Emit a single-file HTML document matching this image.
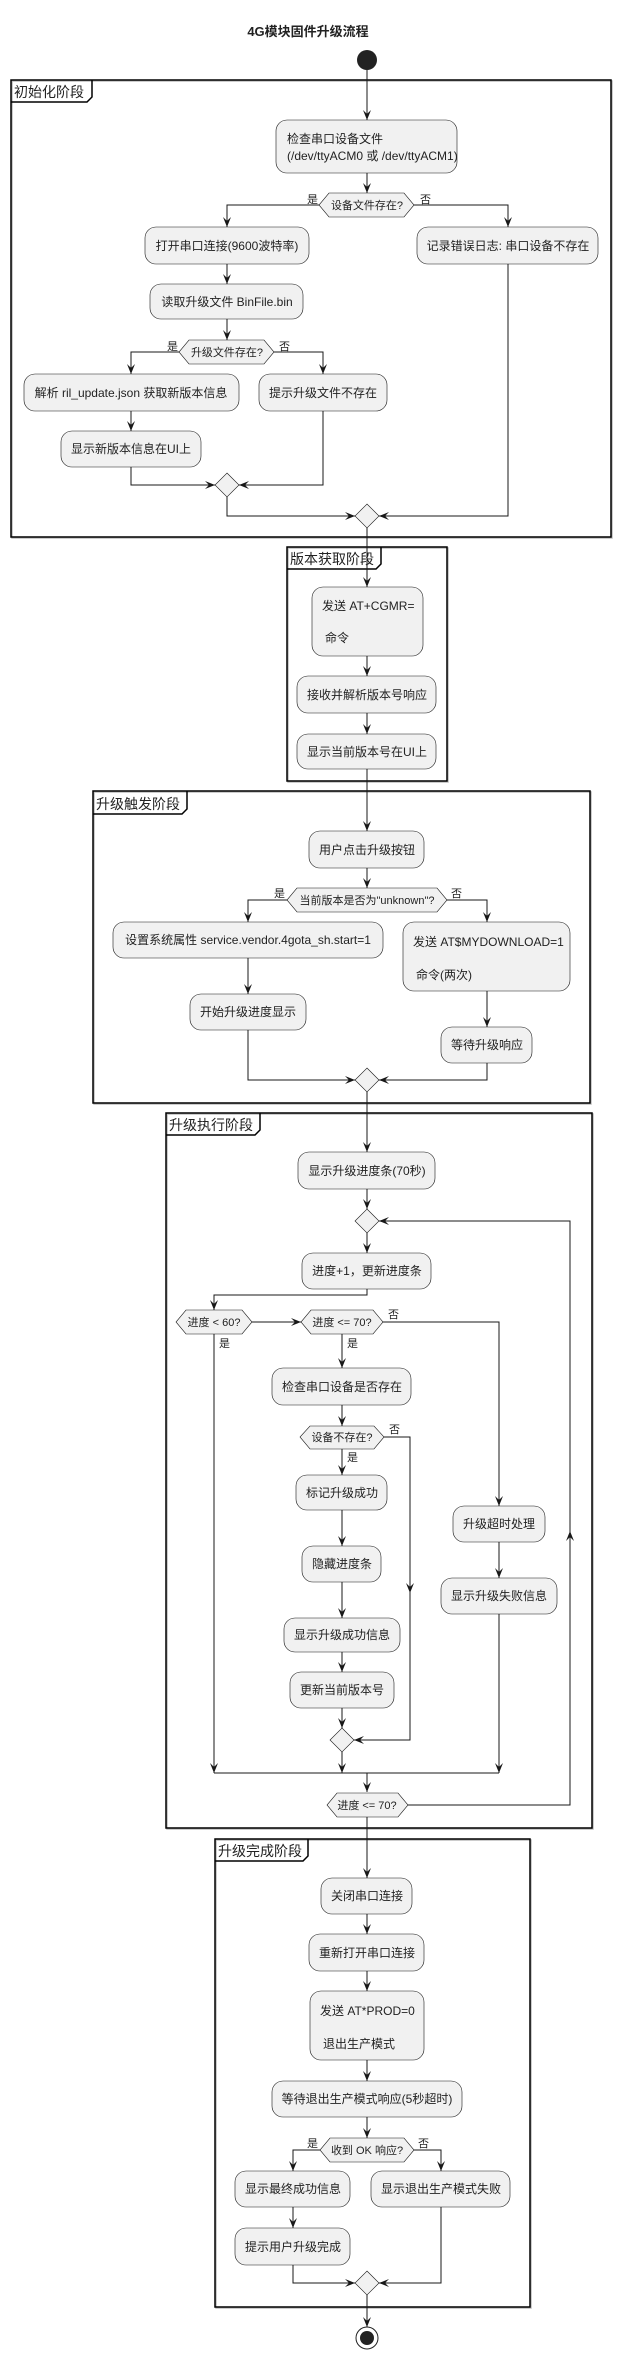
<!DOCTYPE html>
<html><head><meta charset="utf-8"><style>
html,body{margin:0;padding:0;background:#fff;}
svg{display:block;}
text{font-family:"Liberation Sans","Noto Sans CJK SC",sans-serif;fill:#222;}
.b{fill:#F1F1F1;stroke:#181818;stroke-width:0.6;}
.l{fill:none;stroke:#181818;stroke-width:1;}
.f{fill:none;stroke:#000;stroke-width:1.5;}
.fs{fill:none;stroke:#bbb;stroke-width:1.5;}
.t{font-size:12px;text-anchor:middle;}
.ts{font-size:12px;}
.d{font-size:11px;text-anchor:middle;}
.y{font-size:11px;}
.fl{font-size:14px;}
</style></head><body>
<svg width="621" height="2356" viewBox="0 0 621 2356" xmlns="http://www.w3.org/2000/svg">
<defs>
<marker id="a" viewBox="0 0 10 8" refX="10" refY="4" markerWidth="10" markerHeight="8" markerUnits="userSpaceOnUse" orient="auto">
<path d="M0,0 L10,4 L0,8 L4,4 Z" fill="#181818"/></marker>
</defs>
<text x="308" y="36" style="font-size:13px;font-weight:bold;text-anchor:middle">4G模块固件升级流程</text>
<circle cx="367" cy="60" r="10" fill="#222"/>

<!-- frames -->
<g>
<rect x="12" y="81" width="600" height="457" class="fs"/>
<rect x="11" y="80" width="600" height="457" class="f" fill="none"/>
<path d="M11,102 L87,102 L92,97 L92,80" class="f"/>
<text x="14" y="97" class="fl">初始化阶段</text>

<rect x="288" y="548" width="160" height="234" class="fs"/>
<rect x="287" y="547" width="160" height="234" class="f"/>
<path d="M287,569 L376,569 L381,564 L381,547" class="f"/>
<text x="290" y="564" class="fl">版本获取阶段</text>

<rect x="94" y="792" width="497" height="312" class="fs"/>
<rect x="93" y="791" width="497" height="312" class="f"/>
<path d="M93,814 L182,814 L187,809 L187,791" class="f"/>
<text x="96" y="809" class="fl">升级触发阶段</text>

<rect x="167" y="1114" width="426" height="715" class="fs"/>
<rect x="166" y="1113" width="426" height="715" class="f"/>
<path d="M166,1135 L255,1135 L260,1130 L260,1113" class="f"/>
<text x="169" y="1130" class="fl">升级执行阶段</text>

<rect x="216" y="1840" width="315" height="468" class="fs"/>
<rect x="215" y="1839" width="315" height="468" class="f"/>
<path d="M215,1861 L303,1861 L308,1856 L308,1839" class="f"/>
<text x="218" y="1856" class="fl">升级完成阶段</text>
</g>

<!-- connectors -->
<g class="l" marker-end="url(#a)">
<path d="M367,70 V120"/>
<path d="M367,173 V193"/>
<path d="M319,205 H227 V227"/>
<path d="M414,205 H508 V227"/>
<path d="M227,264 V284"/>
<path d="M227,319 V340"/>
<path d="M179,352 H131 V374"/>
<path d="M274,352 H323 V374"/>
<path d="M131,411 V431"/>
<path d="M131,467 V485 H215"/>
<path d="M323,411 V485 H239"/>
<path d="M227,497 V516 H355"/>
<path d="M508,264 V516 H379"/>
<path d="M367,528 V587"/>
<path d="M367,656 V676"/>
<path d="M367,713 V734"/>
<path d="M367,769 V831"/>
<path d="M367,868 V888"/>
<path d="M287,900 H248 V922"/>
<path d="M447,900 H487 V922"/>
<path d="M248,958 V994"/>
<path d="M487,991 V1027"/>
<path d="M248,1030 V1080 H355"/>
<path d="M487,1063 V1080 H379"/>
<path d="M367,1092 V1152"/>
<path d="M367,1189 V1209"/>
<path d="M367,1233 V1253"/>
<path d="M367,1289 V1295 H214 V1310"/>
<path d="M252,1322 H301"/>
<path d="M342,1334 V1368"/>
<path d="M383,1322 H499 V1506"/>
<path d="M342,1405 V1426"/>
<path d="M342,1449 V1475"/>
<path d="M342,1510 V1546"/>
<path d="M342,1582 V1618"/>
<path d="M342,1652 V1672"/>
<path d="M342,1708 V1728"/>
<path d="M410,1593 V1740 H354"/>
<path d="M384,1437 H410 V1593"/>
<path d="M499,1542 V1578"/>
<path d="M214,1334 V1773"/>
<path d="M342,1752 V1773"/>
<path d="M499,1614 V1773"/>
<path d="M367,1773 V1792"/>
<path d="M408,1805 H570 V1531"/>
<path d="M570,1531 V1221 H379"/>
<path d="M367,1817 V1878"/>
<path d="M367,1914 V1934"/>
<path d="M367,1971 V1991"/>
<path d="M367,2060 V2081"/>
<path d="M367,2117 V2138"/>
<path d="M320,2150 H293 V2171"/>
<path d="M414,2150 H441 V2171"/>
<path d="M293,2207 V2228"/>
<path d="M293,2265 V2283 H355"/>
<path d="M441,2207 V2283 H379"/>
<path d="M367,2295 V2327"/>
</g>
<path d="M214,1773 H499" class="l"/>

<!-- end -->
<circle cx="367" cy="2338" r="11" fill="#fff" stroke="#222" stroke-width="1"/>
<circle cx="367" cy="2338" r="7" fill="#222"/>

<!-- merge diamonds -->
<g class="b">
<path d="M227,473 L239,485 L227,497 L215,485 Z"/>
<path d="M367,504 L379,516 L367,528 L355,516 Z"/>
<path d="M367,1068 L379,1080 L367,1092 L355,1080 Z"/>
<path d="M367,1209 L379,1221 L367,1233 L355,1221 Z"/>
<path d="M342,1728 L354,1740 L342,1752 L330,1740 Z"/>
<path d="M367,2271 L379,2283 L367,2295 L355,2283 Z"/>
</g>

<!-- decision hexagons -->
<g class="b">
<path d="M329,193 H404 L414,205 L404,217 H329 L319,205 Z"/>
<path d="M189,340 H264 L274,352 L264,364 H189 L179,352 Z"/>
<path d="M297,888 H437 L447,900 L437,912 H297 L287,900 Z"/>
<path d="M186,1310 H242 L252,1322 L242,1334 H186 L176,1322 Z"/>
<path d="M311,1310 H373 L383,1322 L373,1334 H311 L301,1322 Z"/>
<path d="M310,1426 H374 L384,1437 L374,1449 H310 L300,1437 Z"/>
<path d="M337,1793 H398 L408,1805 L398,1817 H337 L327,1805 Z"/>
<path d="M330,2138 H404 L414,2150 L404,2162 H330 L320,2150 Z"/>
</g>
<text x="367" y="209" class="d">设备文件存在?</text>
<text x="227" y="356" class="d">升级文件存在?</text>
<text x="367" y="904" class="d">当前版本是否为"unknown"?</text>
<text x="214" y="1326" class="d">进度 &lt; 60?</text>
<text x="342" y="1326" class="d">进度 &lt;= 70?</text>
<text x="342" y="1441" class="d">设备不存在?</text>
<text x="367" y="1809" class="d">进度 &lt;= 70?</text>
<text x="367" y="2154" class="d">收到 OK 响应?</text>

<!-- yes/no -->
<text x="318" y="203" class="y" text-anchor="end">是</text>
<text x="420" y="203" class="y">否</text>
<text x="178" y="350" class="y" text-anchor="end">是</text>
<text x="279" y="350" class="y">否</text>
<text x="285" y="897" class="y" text-anchor="end">是</text>
<text x="451" y="897" class="y">否</text>
<text x="388" y="1318" class="y">否</text>
<text x="219" y="1347" class="y">是</text>
<text x="347" y="1347" class="y">是</text>
<text x="389" y="1433" class="y">否</text>
<text x="347" y="1461" class="y">是</text>
<text x="318" y="2147" class="y" text-anchor="end">是</text>
<text x="418" y="2147" class="y">否</text>

<!-- boxes -->
<g class="b">
<rect x="276" y="120" width="181" height="53" rx="11"/>
<rect x="145" y="227" width="164" height="37" rx="11"/>
<rect x="417" y="227" width="181" height="37" rx="11"/>
<rect x="150" y="284" width="153" height="35" rx="11"/>
<rect x="24" y="374" width="215" height="37" rx="11"/>
<rect x="259" y="374" width="128" height="37" rx="11"/>
<rect x="61" y="431" width="140" height="36" rx="11"/>
<rect x="312" y="587" width="111" height="69" rx="11"/>
<rect x="297" y="676" width="139" height="37" rx="11"/>
<rect x="297" y="734" width="139" height="35" rx="11"/>
<rect x="309" y="831" width="115" height="37" rx="11"/>
<rect x="113" y="922" width="270" height="36" rx="11"/>
<rect x="403" y="922" width="167" height="69" rx="11"/>
<rect x="190" y="994" width="116" height="36" rx="11"/>
<rect x="441" y="1027" width="91" height="36" rx="11"/>
<rect x="298" y="1152" width="137" height="37" rx="11"/>
<rect x="302" y="1253" width="129" height="36" rx="11"/>
<rect x="272" y="1368" width="139" height="37" rx="11"/>
<rect x="296" y="1475" width="91" height="35" rx="11"/>
<rect x="302" y="1546" width="79" height="36" rx="11"/>
<rect x="284" y="1618" width="116" height="34" rx="11"/>
<rect x="290" y="1672" width="104" height="36" rx="11"/>
<rect x="453" y="1506" width="92" height="36" rx="11"/>
<rect x="441" y="1578" width="116" height="36" rx="11"/>
<rect x="321" y="1878" width="91" height="36" rx="11"/>
<rect x="309" y="1934" width="115" height="37" rx="11"/>
<rect x="310" y="1991" width="114" height="69" rx="11"/>
<rect x="272" y="2081" width="190" height="36" rx="11"/>
<rect x="235" y="2171" width="115" height="36" rx="11"/>
<rect x="371" y="2171" width="139" height="36" rx="11"/>
<rect x="235" y="2228" width="115" height="37" rx="11"/>
</g>
<text x="287" y="143" class="ts">检查串口设备文件</text>
<text x="287" y="160" class="ts">(/dev/ttyACM0 或 /dev/ttyACM1)</text>
<text x="227" y="250" class="t">打开串口连接(9600波特率)</text>
<text x="508" y="250" class="t">记录错误日志: 串口设备不存在</text>
<text x="227" y="306" class="t">读取升级文件 BinFile.bin</text>
<text x="131" y="397" class="t">解析 ril_update.json 获取新版本信息</text>
<text x="323" y="397" class="t">提示升级文件不存在</text>
<text x="131" y="453" class="t">显示新版本信息在UI上</text>
<text x="322" y="610" class="ts">发送 AT+CGMR=</text>
<text x="325" y="642" class="ts">命令</text>
<text x="367" y="699" class="t">接收并解析版本号响应</text>
<text x="367" y="756" class="t">显示当前版本号在UI上</text>
<text x="367" y="854" class="t">用户点击升级按钮</text>
<text x="248" y="944" class="t">设置系统属性 service.vendor.4gota_sh.start=1</text>
<text x="413" y="946" class="ts">发送 AT$MYDOWNLOAD=1</text>
<text x="416" y="979" class="ts">命令(两次)</text>
<text x="248" y="1016" class="t">开始升级进度显示</text>
<text x="487" y="1049" class="t">等待升级响应</text>
<text x="367" y="1175" class="t">显示升级进度条(70秒)</text>
<text x="367" y="1275" class="t">进度+1，更新进度条</text>
<text x="342" y="1391" class="t">检查串口设备是否存在</text>
<text x="342" y="1497" class="t">标记升级成功</text>
<text x="342" y="1568" class="t">隐藏进度条</text>
<text x="342" y="1639" class="t">显示升级成功信息</text>
<text x="342" y="1694" class="t">更新当前版本号</text>
<text x="499" y="1528" class="t">升级超时处理</text>
<text x="499" y="1600" class="t">显示升级失败信息</text>
<text x="367" y="1900" class="t">关闭串口连接</text>
<text x="367" y="1957" class="t">重新打开串口连接</text>
<text x="320" y="2015" class="ts">发送 AT*PROD=0</text>
<text x="323" y="2048" class="ts">退出生产模式</text>
<text x="367" y="2103" class="t">等待退出生产模式响应(5秒超时)</text>
<text x="293" y="2193" class="t">显示最终成功信息</text>
<text x="441" y="2193" class="t">显示退出生产模式失败</text>
<text x="293" y="2251" class="t">提示用户升级完成</text>
</svg>
</body></html>
